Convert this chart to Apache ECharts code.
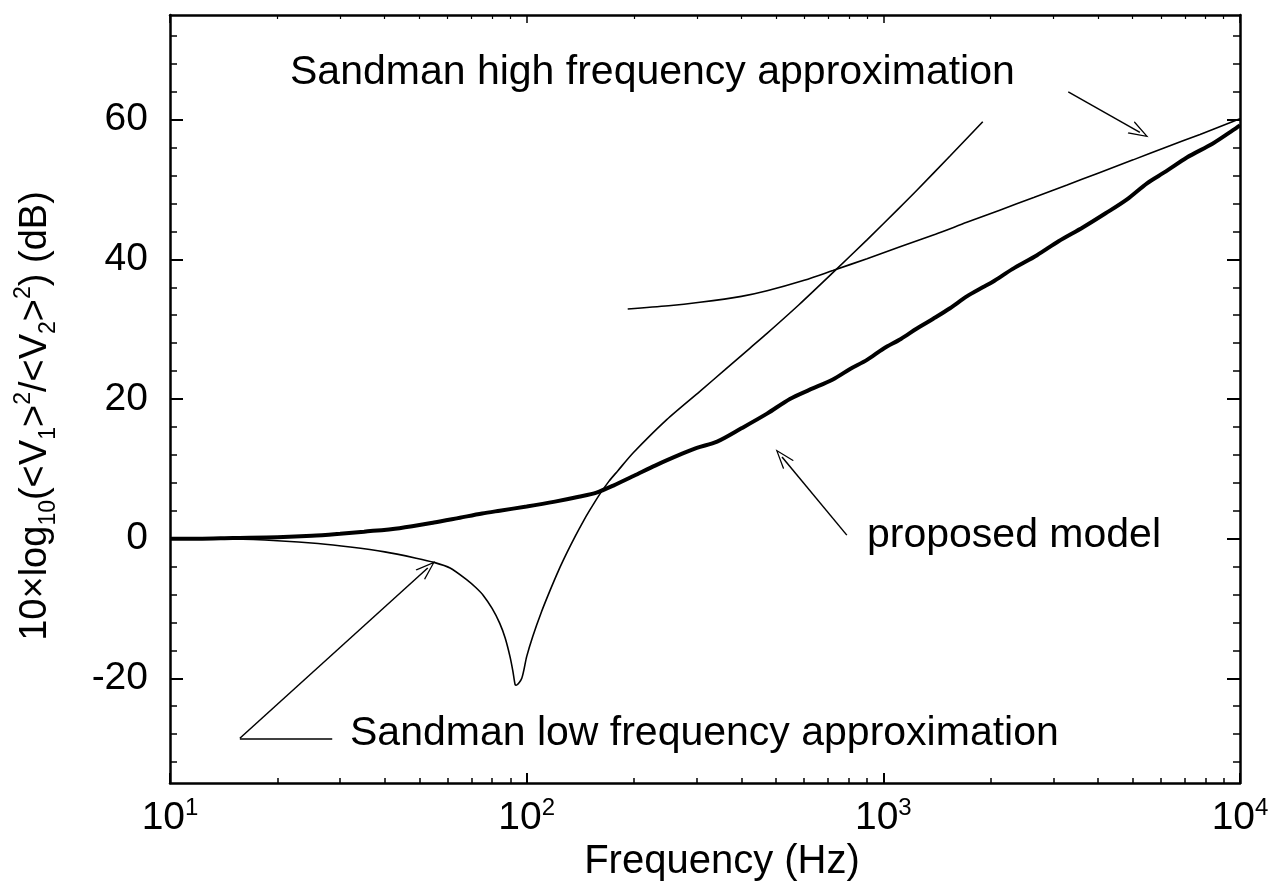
<!DOCTYPE html>
<html>
<head>
<meta charset="utf-8">
<script src="https://cdn.jsdelivr.net/npm/echarts@6/dist/echarts.min.js"></script>
<style>html,body{margin:0;padding:0;background:#fff;}#c{width:1281px;height:893px;}</style>
</head>
<body>
<div id="c"></div>
<script>
// ---- data ----
// proposed model: [frequency (Hz), dB]
var proposedModel = [
  [10,0],[12,0],[15,0.1],[20,0.2],[25,0.4],[30,0.7],[35,1.0],[44,1.5],[55,2.3],[65,3.0],
  [75,3.6],[84,4.0],[100,4.6],[120,5.3],[140,6.0],[157,6.6],[175,7.6],[200,9.0],[230,10.5],
  [274,12.2],[300,13.0],[342,13.9],[400,15.8],[472,17.9],[547,20.0],[620,21.3],[722,22.8],
  [807,24.3],[900,25.6],[1000,27.2],[1120,28.6],[1242,30.1],[1380,31.5],[1538,33.0],
  [1714,34.7],[1900,36.0],[2028,36.8],[2300,38.6],[2697,40.6],[3100,42.6],[3633,44.6],
  [4200,46.6],[4822,48.6],[5486,50.9],[6200,52.6],[7097,54.6],[8395,56.6],[9557,58.5],[10000,59.2]
];
// Sandman low frequency approximation
var lowFreqApprox = [
  [10,0],[15,-0.05],[20,-0.3],[26,-0.7],[32,-1.2],[40,-1.9],[49,-2.8],[55,-3.4],[61,-4.2],
  [68,-5.9],[72,-7.0],[75.5,-8.1],[80,-10.0],[84,-12.1],[87,-14.2],[89.8,-16.9],[91.5,-19.0],
  [92.8,-20.9],[93.5,-21.0],[96.9,-20.0],[100,-16.9],[104,-14.0],[110,-10.5],[116,-7.55],
  [123,-4.5],[130,-1.9],[137,0.4],[144,2.45],[150,4.0],[160,6.3],[170,8.2],[180,9.7],
  [199,12.3],[247,17.05],[306,21.1],[360,24.2],[423,27.3],[472,29.4],[580,33.5],[722,38.1],
  [900,42.8],[1100,47.2],[1242,49.9],[1538,54.8],[1900,59.7]
];
// Sandman high frequency approximation
var highFreqApprox = [
  [192,32.9],[250,33.35],[306,33.85],[400,34.7],[472,35.5],[600,37.0],[722,38.4],[900,40.1],
  [1114,41.8],[1400,43.6],[1714,45.3],[2120,47.05],[2640,48.85],[3275,50.65],[4000,52.35],
  [5015,54.25],[6200,56.05],[7725,57.9],[9557,59.75],[10000,60.15]
];
// tick values
var yMajorTicks = [-20, 0, 20, 40, 60];
var yMinorTicks = [-32,-28,-24,-16,-12,-8,-4,4,8,12,16,24,28,32,36,44,48,52,56,64,68,72];
var xMinorTicks = [20,30,40,50,60,70,80,90,200,300,400,500,600,700,800,900,2000,3000,4000,5000,6000,7000,8000,9000];
// annotation arrows: [from, to] in data coordinates
var arrowHigh = [[3300, 64.0], [5240, 58.2]];
var arrowProposed = [[790, 0.5], [520, 11.7]];
var arrowLowVertex = [15.7, -28.6];
var arrowLowHead = [52.8, -4.2];
var arrowLowTail = [28.5, -28.6];
// labels
var texts = {
  high: 'Sandman high frequency approximation',
  proposed: 'proposed model',
  low: 'Sandman low frequency approximation',
  xName: 'Frequency (Hz)'
};

var FONT = 'Liberation Sans, Arial, Helvetica, sans-serif';
var chevron = 'path://M10,0 L20,22 L18,22 L10,4 L2,22 L0,22 Z';

function arrowLine(a, b, withHead) {
  return [
    { coord: a, symbol: 'none' },
    { coord: b, symbol: withHead ? chevron : 'none', symbolSize: [14, 20] }
  ];
}

var markLineBase = {
  silent: true,
  animation: false,
  label: { show: false },
  lineStyle: { color: '#000', width: 1.5, type: 'solid' },
  emphasis: { disabled: true }
};

var chart = echarts.init(document.getElementById('c'));
var axisLineStyle = { color: '#000', width: 2.5 };

function logLabel(v) {
  var e = Math.round(Math.log(v) / Math.LN10);
  return '{b|10}{s|' + e + '}';
}

function xAxisBase(pos) {
  return {
    type: 'log', logBase: 10, min: 10, max: 10000, position: pos,
    splitLine: { show: false }, axisLabel: { show: false }
  };
}
function yAxisBase(pos) {
  return {
    type: 'value', min: -35, max: 75, position: pos,
    splitLine: { show: false }, axisLabel: { show: false }
  };
}

var xMain = xAxisBase('bottom');
xMain.axisLine = { show: true, onZero: false, lineStyle: axisLineStyle };
xMain.axisTick = { show: true, inside: true, length: 10, lineStyle: { color: '#000', width: 2 } };
xMain.axisLabel = {
  show: true, margin: 13, formatter: logLabel,
  rich: {
    b: { fontFamily: FONT, fontSize: 39, color: '#000', lineHeight: 44 },
    s: { fontFamily: FONT, fontSize: 24, color: '#000', lineHeight: 24, verticalAlign: 'top' }
  }
};
xMain.name = texts.xName;
xMain.nameLocation = 'middle';
xMain.nameGap = 52;
xMain.nameTextStyle = { fontFamily: FONT, fontSize: 40, color: '#000', padding: [0, 0, 0, 34] };

var xMinorBottom = xAxisBase('bottom');
xMinorBottom.axisLine = { show: false, onZero: false };
xMinorBottom.axisTick = { show: true, inside: true, length: 5, customValues: xMinorTicks, lineStyle: { color: '#000', width: 1.5 } };

var xTop = xAxisBase('top');
xTop.axisLine = { show: true, onZero: false, lineStyle: axisLineStyle };
xTop.axisTick = { show: true, inside: true, length: 8, lineStyle: { color: '#000', width: 1.5 } };

var xMinorTop = xAxisBase('top');
xMinorTop.axisLine = { show: false, onZero: false };
xMinorTop.axisTick = { show: true, inside: true, length: 4, customValues: xMinorTicks, lineStyle: { color: '#000', width: 1.2 } };

var yMain = yAxisBase('left');
yMain.axisLine = { show: true, onZero: false, lineStyle: axisLineStyle };
yMain.axisTick = { show: true, inside: true, length: 13, customValues: yMajorTicks, lineStyle: { color: '#000', width: 2 } };
yMain.axisLabel = { show: true, margin: 22, customValues: yMajorTicks, fontFamily: FONT, fontSize: 39, color: '#000' };
yMain.name = '10×log{s|10}(<V{s|1}>{p|2}/<V{s|2}>{p|2}) (dB)';
yMain.nameLocation = 'middle';
yMain.nameRotate = 90;
yMain.nameGap = 110;
yMain.nameTextStyle = {
  fontFamily: FONT, fontSize: 38, color: '#000', padding: [0, 34, 0, 0], lineHeight: 48,
  rich: {
    s: { fontFamily: FONT, fontSize: 23, lineHeight: 23, verticalAlign: 'bottom', color: '#000' },
    p: { fontFamily: FONT, fontSize: 23, lineHeight: 23, verticalAlign: 'top', color: '#000' }
  }
};

var yMinorLeft = yAxisBase('left');
yMinorLeft.axisLine = { show: false, onZero: false };
yMinorLeft.axisTick = { show: true, inside: true, length: 7, customValues: yMinorTicks, lineStyle: { color: '#000', width: 1.5 } };

var yRight = yAxisBase('right');
yRight.axisLine = { show: true, onZero: false, lineStyle: axisLineStyle };
yRight.axisTick = { show: true, inside: true, length: 13, customValues: yMajorTicks, lineStyle: { color: '#000', width: 2 } };

var yMinorRight = yAxisBase('right');
yMinorRight.axisLine = { show: false, onZero: false };
yMinorRight.axisTick = { show: true, inside: true, length: 7, customValues: yMinorTicks, lineStyle: { color: '#000', width: 1.5 } };

var option = {
  animation: false,
  backgroundColor: '#fff',
  grid: { left: 170, right: 41, top: 15, bottom: 110, containLabel: false },
  xAxis: [xMain, xMinorBottom, xTop, xMinorTop],
  yAxis: [yMain, yMinorLeft, yRight, yMinorRight],
  series: [
    {
      name: 'Sandman low frequency approximation', type: 'line', data: lowFreqApprox,
      xAxisIndex: 0, yAxisIndex: 0, showSymbol: false, smooth: 0.25,
      lineStyle: { color: '#000', width: 1.6 },
      markLine: Object.assign({}, markLineBase, {
        data: [arrowLine(arrowLowVertex, arrowLowHead, true), arrowLine(arrowLowVertex, arrowLowTail, false)]
      })
    },
    {
      name: 'Sandman high frequency approximation', type: 'line', data: highFreqApprox,
      xAxisIndex: 0, yAxisIndex: 0, showSymbol: false, smooth: 0.3,
      lineStyle: { color: '#000', width: 1.6 },
      markLine: Object.assign({}, markLineBase, { data: [arrowLine(arrowHigh[0], arrowHigh[1], true)] })
    },
    {
      name: 'proposed model', type: 'line', data: proposedModel,
      xAxisIndex: 0, yAxisIndex: 0, showSymbol: false, smooth: 0.3,
      lineStyle: { color: '#000', width: 4 },
      markLine: Object.assign({}, markLineBase, { data: [arrowLine(arrowProposed[0], arrowProposed[1], true)] })
    }
  ],
  graphic: [
    { type: 'text', left: 290, top: 52, silent: true,
      style: { text: texts.high, fontFamily: FONT, fontSize: 41, fill: '#000' } },
    { type: 'text', left: 867, top: 515, silent: true,
      style: { text: texts.proposed, fontFamily: FONT, fontSize: 41, fill: '#000' } },
    { type: 'text', left: 350, top: 713, silent: true,
      style: { text: texts.low, fontFamily: FONT, fontSize: 41, fill: '#000' } }
  ]
};
chart.setOption(option);
</script>
</body>
</html>
